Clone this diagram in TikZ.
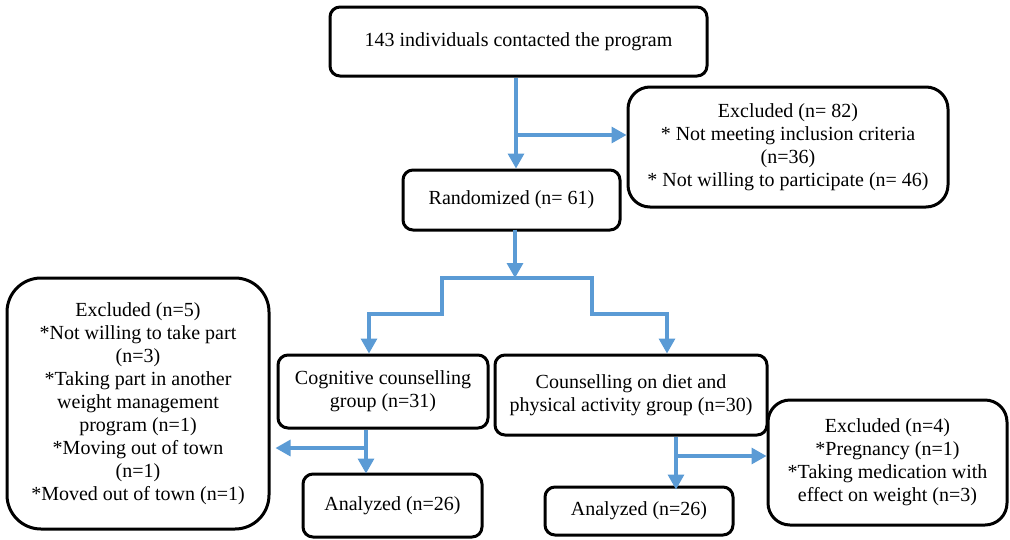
\documentclass[tikz,border=0pt]{standalone}
\usepackage{fontspec}
\setmainfont{Liberation Serif}
\usepackage{xcolor}
\usetikzlibrary{arrows.meta}
\definecolor{flowblue}{RGB}{91,155,213}

\begin{document}
\begin{tikzpicture}[x=1pt,y=-1pt,
  box/.style={draw=black,line width=3pt,rounded corners=10pt,inner sep=0pt,align=center,
    font=\fontsize{20}{23}\selectfont},
  flow/.style={draw=flowblue,line width=3.2pt},
  flowarrow/.style={flow,-{Triangle[length=15pt,width=16pt]}}]
\useasboundingbox (0,0) rectangle (1010,539);
% boxes
\node[box,minimum width=377,minimum height=69] (contact) at (518.5,41.5) {143 individuals contacted the program};
\node[box,rounded corners=22pt,minimum width=320,minimum height=120] (excla) at (788,147) {Excluded (n= 82)\\* Not meeting inclusion criteria\\(n=36)\\* Not willing to participate (n= 46)};
\node[box,minimum width=217,minimum height=60] (rand) at (511.5,200) {Randomized (n= 61)};
\node[box,rounded corners=34pt,minimum width=262,minimum height=251] (exclb) at (138,403.5) {Excluded (n=5)\\*Not willing to take part\\(n=3)\\*Taking part in another\\weight management\\program (n=1)\\*Moving out of town\\(n=1)\\*Moved out of town (n=1)};
\node[box,minimum width=210,minimum height=73] (cog) at (383,391.5) {Cognitive counselling\\group (n=31)};
\node[box,minimum width=272,minimum height=80] (diet) at (631,395) {Counselling on diet and\\physical activity group (n=30)};
\node[box,minimum width=179,minimum height=63] (anla) at (392.5,505.5) {Analyzed (n=26)};
\node[box,minimum width=188,minimum height=48] (anlb) at (639,511) {Analyzed (n=26)};
\node[box,rounded corners=22pt,minimum width=239,minimum height=125] (exclc) at (887.5,462.5) {Excluded (n=4)\\*Pregnancy (n=1)\\*Taking medication with\\effect on weight (n=3)};
% connectors
\coordinate (j1) at (516,135);
\draw[flowarrow] (contact.south -| j1) -- (rand.north -| j1);
\draw[flowarrow] (j1) -- (j1 -| excla.west);
\coordinate (split) at (515,278);
\draw[flowarrow] ([yshift=2]rand.south -| split) -- (split);
\coordinate (sl) at (442,314);
\coordinate (cl) at (369,314);
\coordinate (sr) at (592,314);
\coordinate (cr) at (667,314);
\draw[flowarrow] (split) -| (sl) -- (cl) -- (cl |- cog.north);
\draw[flowarrow] (split) -| (sr) -- (cr) -- (cr |- diet.north);
\coordinate (ja) at (366,448);
\draw[flowarrow] (cog.south -| ja) -- ([yshift=-1]anla.north -| ja);
\draw[flowarrow,shorten >=5pt] (ja) -- (ja -| exclb.east);
\coordinate (jb) at (676,456);
\draw[flowarrow] (diet.south -| jb) -- ([yshift=-4]anlb.north -| jb);
\draw[flowarrow] ([xshift=2]jb) -- (jb -| exclc.west);
\end{tikzpicture}
\end{document}
